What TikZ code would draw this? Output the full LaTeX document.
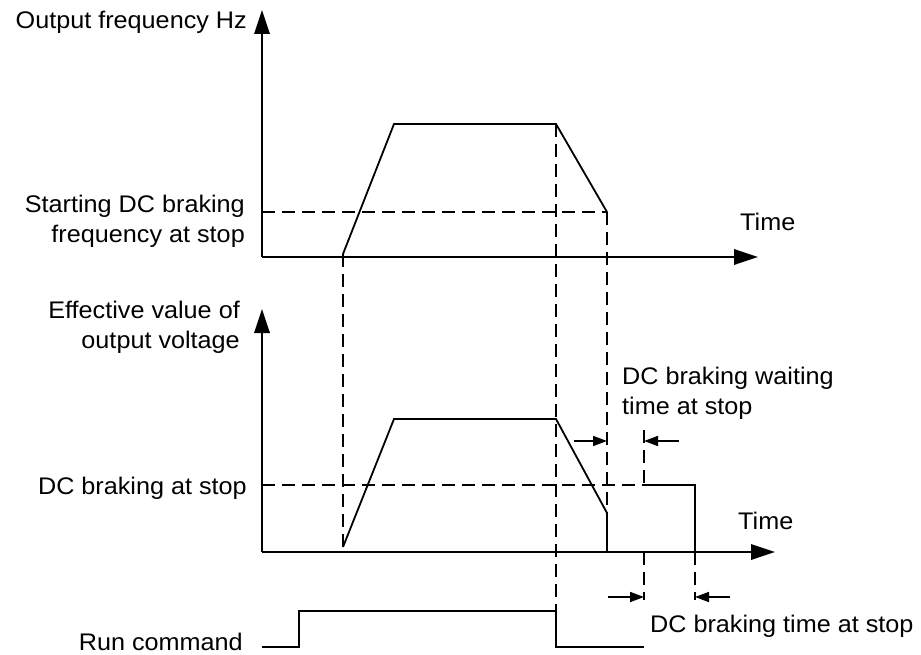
\documentclass[tikz,border=0pt]{standalone}
\usepackage{fontspec}
\setmainfont{Liberation Sans}
\usepackage{graphicx}
\usetikzlibrary{arrows.meta}
\newcommand{\hs}[1]{\scalebox{1.05}[1]{#1}}
\begin{document}
\begin{tikzpicture}[x=1pt,y=-1pt,
  ln/.style={line width=1.8pt, line join=miter},
  dsh/.style={line width=1.6pt, dash pattern=on 13pt off 7pt},
  axis/.style={line width=1.8pt, -{Triangle[length=24pt,width=15.5pt]}},
  dim/.style={line width=1.6pt, -{Triangle[length=14pt,width=10pt]}},
  lbl/.style={inner sep=0pt, font=\fontsize{24}{30}\selectfont}]
\useasboundingbox (0,0) rectangle (921,655);
% axes
\coordinate (O1) at (262,257);
\coordinate (Y1) at (262,10);
\coordinate (X1) at (758,257);
\coordinate (O2) at (262,552);
\coordinate (Y2) at (262,309);
\coordinate (X2) at (775,552);
\draw[axis] (O1) -- (Y1);
\draw[axis] (O1) -- (X1);
\draw[axis] (O2) -- (Y2);
\draw[axis] (O2) -- (X2);
% top curve
\coordinate (a1) at (343,254);
\coordinate (b1) at (394,124);
\coordinate (c1) at (556,124);
\coordinate (d1) at (607,212);
\coordinate (f1) at (262,212);
\draw[ln] (a1) -- (b1) -- (c1) -- (d1);
\draw[dsh] (f1) -- (d1);
% bottom curve
\coordinate (a2) at (343,547);
\coordinate (b2) at (394,419);
\coordinate (c2) at (556,419);
\coordinate (d2) at (607,513);
\coordinate (e2) at (607,552);
\draw[ln] (a2) -- (b2) -- (c2) -- (d2) -- (e2);
% vertical dashed guides
\coordinate (r1) at (556,611);
\draw[dsh] (a1) -- (a2);
\draw[dsh] (c1) -- (r1);
\draw[dsh] (d1) -- (d2);
% DC braking level
\coordinate (f2) at (262,485);
\coordinate (g2) at (644,485);
\coordinate (h2) at (695,485);
\coordinate (k2) at (695,552);
\draw[dsh] (f2) -- (g2);
\draw[ln] (g2) -- (h2) -- (k2);
\coordinate (g0) at (644,430);
\draw[dsh] (g0) -- (g2);
\coordinate (m1) at (644,552);
\coordinate (m2) at (644,600);
\coordinate (k3) at (695,600);
\draw[dsh] (m1) -- (m2);
\draw[dsh] (k2) -- (k3);
% dimension arrows
\coordinate (p1) at (574,441);
\coordinate (p2) at (607,441);
\coordinate (p3) at (679,441);
\coordinate (p4) at (644,441);
\draw[dim] (p1) -- (p2);
\draw[dim] (p3) -- (p4);
\coordinate (q1) at (608,597);
\coordinate (q2) at (644,597);
\coordinate (q3) at (730,597);
\coordinate (q4) at (695,597);
\draw[dim] (q1) -- (q2);
\draw[dim] (q3) -- (q4);
% run command
\coordinate (s0) at (262,647);
\coordinate (s1) at (299,647);
\coordinate (s2) at (299,611);
\coordinate (s3) at (556,647);
\coordinate (s4) at (644,647);
\draw[ln] (s0) -- (s1) -- (s2) -- (r1) -- (s3) -- (s4);
% labels
\node[lbl, anchor=base east] (lofreq) at (247,29) {\hs{Output frequency Hz}};
\node[lbl, anchor=base east] (lstart) at (245,213) {\hs{\begin{tabular}[t]{@{}r@{}}Starting DC braking\\frequency at stop\end{tabular}}};
\node[lbl, anchor=base east] (leff) at (240,318) {\hs{\begin{tabular}[t]{@{}r@{}}Effective value of\\output voltage\end{tabular}}};
\node[lbl, anchor=base east] (ldcb) at (247,494) {\hs{DC braking at stop}};
\node[lbl, anchor=base east] (lrun) at (243,650) {\hs{Run command}};
\node[lbl, anchor=base west] (ltime1) at (740,231) {\hs{Time}};
\node[lbl, anchor=base west] (ltime2) at (738,529) {\hs{Time}};
\node[lbl, anchor=base west] (lwait) at (622,384) {\hs{\begin{tabular}[t]{@{}l@{}}DC braking waiting\\time at stop\end{tabular}}};
\node[lbl, anchor=base west] (ldct) at (650,632) {\hs{DC braking time at stop}};
\end{tikzpicture}
\end{document}
